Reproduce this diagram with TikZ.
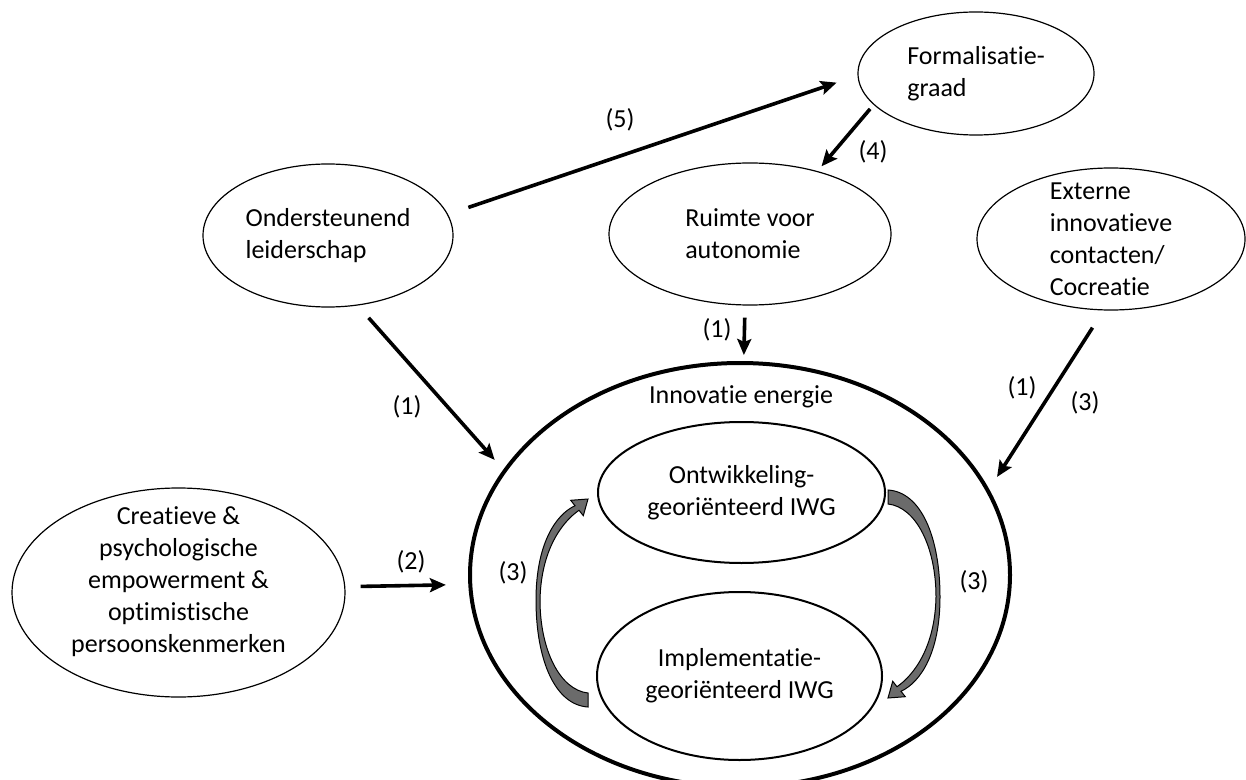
\documentclass[tikz,border=0pt]{standalone}
\usepackage{fontspec}
\setmainfont{Carlito}[Ligatures={NoCommon}]
\usetikzlibrary{shapes.geometric,arrows.meta}

\begin{document}
\begin{tikzpicture}
  [x=0.5pt, y=-0.5pt,
  every node/.style={font=\fontsize{13}{16}\selectfont},
  concept/.style={ellipse, draw, line width=0.6pt, inner sep=0pt},
  innerell/.style={ellipse, draw, line width=1pt, inner sep=0pt, align=center},
  conn/.style={line width=1.8pt, -{Stealth[length=8pt, width=7pt, inset=1.5pt]}},
  cyclearrow/.style={fill=black!58, draw=black, line width=0.5pt}]

  \useasboundingbox (0,0) rectangle (1246,780);

  % outer factors
  \node[concept, align=left, minimum width=125pt, minimum height=71.5pt] (lead) at (328,235.5) {Ondersteunend\\leiderschap};
  \node[concept, align=left, minimum width=141pt, minimum height=71pt] (ruimte) at (750,234) {Ruimte voor\\autonomie};
  \node[concept, align=left, minimum width=118pt, minimum height=61.5pt] (form) at (976,73.5) {Formalisatie-\\graad};
  \node[concept, align=left, inner ysep=-6pt, minimum width=134pt, minimum height=71pt] (ext) at (1111,239) {Externe\\innovatieve\\contacten/\\Cocreatie};
  \node[concept, align=center, inner ysep=-9pt, minimum width=166.5pt, minimum height=104.5pt] (creat) at (178.5,592.5) {Creatieve \&\\psychologische\\empowerment \&\\optimistische\\persoonskenmerken\\[-3pt]\mbox{}};

  % innovatie energie
  \node[ellipse, draw, line width=2pt, inner sep=0pt, minimum width=270pt, minimum height=212pt] (big) at (740,575) {};
  \node (energy) at (741,397) {Innovatie energie};
  \node[innerell, minimum width=143.5pt, minimum height=70.5pt] (ontw) at (741.5,492.5) {Ontwikkeling-\\georiënteerd IWG};
  \node[innerell, minimum width=142.5pt, minimum height=84pt] (impl) at (739.5,676) {Implementatie-\\georiënteerd IWG};

  % gray cycle arrows
  \foreach \tx/\ty/\rot in {588/700/0, 888/497/180}
    \filldraw[cyclearrow, shift={(\tx,\ty)}, rotate=\rot] (0,7) .. controls (-33,5) and (-52,-40) .. (-52,-100) .. controls (-52,-155) and (-33,-185) .. (-13,-194.3) -- (-17.3,-199.7) -- (0,-201) -- (-4.7,-184.3) -- (-9,-189.7) .. controls (-26,-178) and (-47,-150) .. (-48,-100) .. controls (-48,-50) and (-28,-10) .. (0,-7) -- cycle;

  % connectors
  \draw[conn, shorten <=10.7pt, shorten >=11pt] (lead.10) -- (form.181);
  \draw[conn, shorten <=2.7pt, shorten >=3.1pt] (form.197) -- (ruimte.43);
  \draw[conn, shorten <=6pt, shorten >=3pt] (ruimte.266) -- (big.89);
  \draw[conn, shorten <=8.2pt, shorten >=6.5pt] (lead.293) -- (big.156);
  \draw[conn, shorten <=10.2pt, shorten >=7.3pt] (ext.264) -- (big.19);
  \draw[conn, shorten <=7.6pt, shorten >=11.2pt] (creat.2) -- (big.182);

  % labels
  \node (l5) at (620,120) {(5)};
  \node (l4) at (873,152) {(4)};
  \node (l1a) at (407,407) {(1)};
  \node (l1b) at (717,330) {(1)};
  \node (l1c) at (1022,388) {(1)};
  \node (l3c) at (1085,403) {(3)};
  \node (l2) at (411,562) {(2)};
  \node (l3a) at (513,573) {(3)};
  \node (l3b) at (974,582) {(3)};
\end{tikzpicture}
\end{document}
